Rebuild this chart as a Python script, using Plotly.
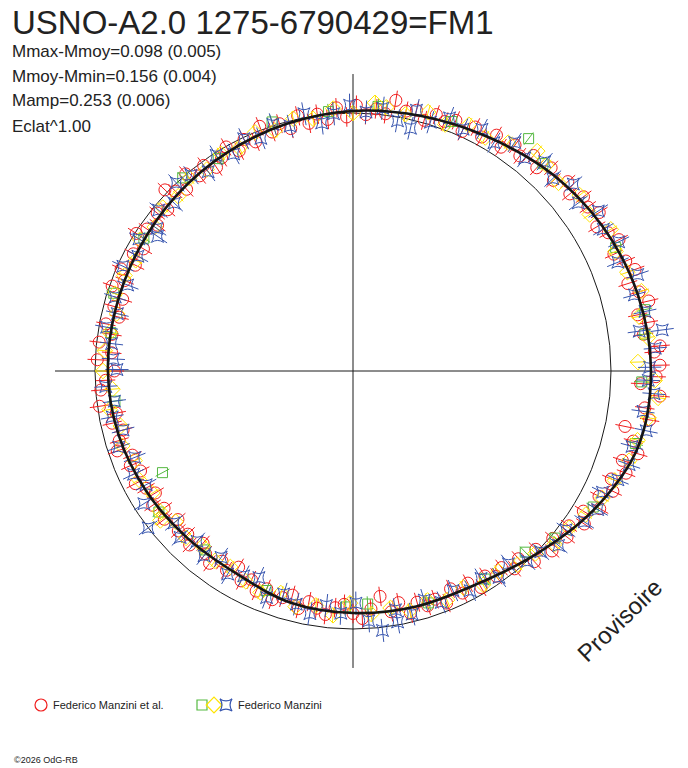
import numpy as np
import plotly.graph_objects as go

# ---------------- data ----------------
title = "USNO-A2.0 1275-6790429=FM1"
stats = ["Mmax-Mmoy=0.098 (0.005)", "Mmoy-Mmin=0.156 (0.004)", "Mamp=0.253 (0.006)", "Eclat^1.00"]
observer_1 = "Federico Manzini et al."
observer_2 = "Federico Manzini"

# fitted light curve: phase, magnitude offset from mean (m - Mmoy)
fit_phase = [0.0, 0.0417, 0.0833, 0.125, 0.1667, 0.2083, 0.25, 0.2917, 0.3333, 0.375, 0.4167, 0.4583,
             0.5, 0.5417, 0.5833, 0.625, 0.6667, 0.7083, 0.75, 0.7917, 0.8333, 0.875, 0.9167, 0.9583]
fit_dmag = [-0.155, -0.143, -0.118, -0.085, -0.047, -0.023, -0.008, 0.008, 0.023, 0.035, 0.045, 0.049,
            0.050, 0.058, 0.073, 0.088, 0.094, 0.070, 0.062, 0.055, 0.045, -0.004, -0.077, -0.143]

red_phase = [0.003, 0.010, 0.013, 0.020, 0.026, 0.031, 0.037, 0.043, 0.049, 0.055, 0.061, 0.067, 0.073, 0.079,
             0.085, 0.091, 0.097, 0.103, 0.109, 0.115, 0.121, 0.127, 0.133, 0.139, 0.145, 0.151, 0.157, 0.163,
             0.170, 0.176, 0.182, 0.188, 0.194, 0.200, 0.206, 0.212, 0.218, 0.225, 0.230, 0.236, 0.242, 0.248,
             0.254, 0.260, 0.266, 0.272, 0.278, 0.284, 0.290, 0.296, 0.302, 0.308, 0.314, 0.320, 0.326, 0.332,
             0.338, 0.344, 0.350, 0.356, 0.362, 0.368, 0.374, 0.378, 0.386, 0.392, 0.398, 0.404, 0.410, 0.416,
             0.422, 0.428, 0.434, 0.440, 0.446, 0.452, 0.458, 0.464, 0.470, 0.476, 0.482, 0.488, 0.493, 0.500,
             0.506, 0.512, 0.522, 0.528, 0.534, 0.540, 0.546, 0.552, 0.558, 0.564, 0.570, 0.576, 0.582, 0.588,
             0.594, 0.600, 0.606, 0.612, 0.618, 0.624, 0.630, 0.636, 0.642, 0.648, 0.654, 0.660, 0.666, 0.672,
             0.678, 0.684, 0.690, 0.696, 0.702, 0.708, 0.714, 0.720, 0.726, 0.732, 0.738, 0.744, 0.750, 0.756,
             0.762, 0.769, 0.775, 0.781, 0.787, 0.793, 0.799, 0.805, 0.811, 0.817, 0.823, 0.829, 0.835, 0.841,
             0.847, 0.853, 0.859, 0.865, 0.871, 0.877, 0.883, 0.889, 0.895, 0.901, 0.907, 0.913, 0.919, 0.925,
             0.931, 0.937, 0.943, 0.949, 0.955, 0.961, 0.968, 0.974, 0.980, 0.987, 0.993, 0.997]
red_dmag = [-0.190, -0.170, -0.194, -0.135, -0.160, -0.125, -0.178, -0.150, -0.118, -0.162, -0.140, -0.108, -0.150, -0.125,
            -0.098, -0.135, -0.110, -0.120, -0.085, -0.110, -0.072, -0.100, -0.062, -0.090, -0.055, -0.078, -0.040, -0.070,
            -0.035, -0.058, -0.020, -0.050, -0.030, -0.045, -0.010, -0.040, -0.028, -0.062, -0.005, -0.020, 0.005, -0.030,
            0.015, -0.022, 0.020, -0.005, 0.025, -0.012, 0.030, 0.000, 0.022, -0.015, 0.035, 0.008, 0.040, 0.002,
            0.030, 0.050, 0.015, 0.038, -0.002, 0.045, 0.020, -0.012, 0.048, 0.025, 0.055, 0.030, 0.005, 0.060,
            0.035, 0.062, 0.018, 0.048, 0.010, 0.065, 0.040, 0.070, 0.025, 0.055, 0.010, 0.062, 0.008, 0.075,
            0.040, 0.020, 0.008, 0.068, 0.045, 0.080, 0.055, 0.035, 0.085, 0.062, 0.090, 0.050, 0.078, 0.100,
            0.065, 0.095, 0.070, 0.110, 0.082, 0.100, 0.075, 0.115, 0.090, 0.070, 0.105, 0.085, 0.120, 0.078,
            0.100, 0.068, 0.092, 0.060, 0.080, 0.100, 0.055, 0.090, 0.070, 0.050, 0.080, 0.095, 0.060, 0.040,
            0.075, 0.120, 0.055, 0.085, 0.035, 0.070, 0.045, 0.060, 0.030, 0.075, 0.040, 0.065, 0.025, 0.055,
            0.030, 0.045, 0.010, 0.030, -0.020, 0.010, -0.040, -0.010, -0.050, -0.030, -0.075, -0.045, -0.095, -0.070,
            -0.110, -0.085, -0.130, -0.100, -0.150, -0.120, -0.076, -0.165, -0.140, -0.194, -0.116, -0.175]

yellow_phase = [0.005, 0.018, 0.030, 0.043, 0.055, 0.068, 0.080, 0.093, 0.105, 0.118, 0.130, 0.139, 0.155, 0.168,
                0.180, 0.193, 0.205, 0.218, 0.230, 0.237, 0.250, 0.262, 0.275, 0.287, 0.300, 0.312, 0.325, 0.337,
                0.350, 0.362, 0.375, 0.387, 0.400, 0.412, 0.425, 0.437, 0.450, 0.462, 0.475, 0.487, 0.500, 0.512,
                0.525, 0.537, 0.550, 0.562, 0.575, 0.587, 0.600, 0.605, 0.612, 0.625, 0.637, 0.650, 0.661, 0.675,
                0.687, 0.700, 0.712, 0.725, 0.737, 0.748, 0.762, 0.775, 0.787, 0.800, 0.812, 0.825, 0.837, 0.850,
                0.862, 0.875, 0.887, 0.900, 0.912, 0.925, 0.937, 0.950, 0.962, 0.975, 0.986, 0.995]
yellow_dmag = [-0.105, -0.150, -0.128, -0.160, -0.130, -0.118, -0.140, -0.100, -0.112, -0.080, -0.095, -0.112, -0.070, -0.040,
               -0.055, -0.020, -0.045, -0.015, -0.030, -0.043, 0.000, -0.020, 0.010, -0.005, 0.020, 0.000, 0.030, 0.015,
               0.035, 0.020, 0.042, 0.028, 0.050, 0.030, 0.055, 0.040, 0.030, 0.058, 0.045, 0.035, 0.031, 0.065,
               0.045, 0.075, 0.060, 0.085, 0.070, 0.090, 0.075, 0.055, 0.098, 0.085, 0.105, 0.090, 0.104, 0.085,
               0.070, 0.095, 0.060, 0.080, 0.050, 0.100, 0.055, 0.070, 0.045, 0.065, 0.040, 0.058, 0.030, 0.040,
               0.015, 0.000, -0.030, -0.035, -0.060, -0.085, -0.100, -0.125, -0.135, -0.160, -0.187, -0.170]

blue_phase = [0.002, 0.012, 0.021, 0.022, 0.032, 0.042, 0.052, 0.062, 0.072, 0.082, 0.092, 0.102, 0.112, 0.122,
              0.132, 0.142, 0.152, 0.162, 0.172, 0.182, 0.192, 0.202, 0.212, 0.213, 0.222, 0.232, 0.242, 0.252,
              0.262, 0.270, 0.280, 0.290, 0.300, 0.310, 0.320, 0.330, 0.340, 0.350, 0.360, 0.370, 0.380, 0.390,
              0.400, 0.404, 0.412, 0.422, 0.432, 0.442, 0.452, 0.462, 0.472, 0.482, 0.492, 0.499, 0.510, 0.520,
              0.530, 0.540, 0.550, 0.560, 0.570, 0.580, 0.590, 0.604, 0.612, 0.622, 0.632, 0.642, 0.652, 0.662,
              0.672, 0.682, 0.692, 0.702, 0.712, 0.722, 0.732, 0.742, 0.752, 0.760, 0.768, 0.778, 0.778, 0.788,
              0.798, 0.808, 0.818, 0.828, 0.838, 0.848, 0.858, 0.868, 0.878, 0.888, 0.898, 0.908, 0.918, 0.928,
              0.938, 0.948, 0.958, 0.968, 0.978, 0.988, 0.995]
blue_dmag = [-0.150, -0.175, -0.209, -0.120, -0.155, -0.130, -0.165, -0.110, -0.145, -0.115, -0.135, -0.090, -0.120, -0.075,
             -0.100, -0.060, -0.085, -0.040, -0.062, -0.030, -0.050, -0.010, -0.040, 0.033, 0.015, -0.025, -0.005, -0.030,
             0.000, 0.031, -0.015, 0.020, -0.005, 0.030, 0.005, 0.040, 0.010, 0.045, 0.015, 0.000, 0.050, 0.022,
             0.060, 0.080, 0.025, 0.055, 0.020, 0.065, 0.035, 0.060, 0.030, 0.058, 0.070, 0.085, 0.040, 0.068,
             0.050, 0.080, 0.045, 0.090, 0.060, 0.085, 0.040, 0.000, 0.090, 0.070, 0.105, 0.080, 0.115, 0.075,
             0.100, 0.120, 0.060, 0.095, 0.070, 0.045, 0.085, 0.060, 0.100, 0.030, -0.012, 0.060, 0.012, 0.030,
             0.070, 0.040, 0.065, 0.035, 0.055, 0.020, 0.040, 0.000, -0.010, -0.045, -0.030, -0.070, -0.090, -0.075,
             -0.110, -0.130, -0.120, -0.160, -0.135, -0.170, -0.145]

green_phase = [0.020, 0.033, 0.070, 0.132, 0.147, 0.190, 0.235, 0.265, 0.300, 0.340, 0.365, 0.410, 0.450, 0.475,
               0.520, 0.578, 0.600, 0.640, 0.690, 0.745, 0.760, 0.800, 0.840, 0.871, 0.890, 0.918, 0.960, 0.994]
green_dmag = [-0.140, -0.155, -0.125, -0.090, -0.129, -0.040, -0.030, -0.010, -0.015, 0.025, 0.002, 0.040, 0.025, 0.050,
              0.070, 0.163, 0.070, 0.100, 0.085, 0.085, 0.095, 0.055, 0.045, 0.031, -0.016, -0.070, -0.130, -0.120]

# typical radial error (mag) of each series
err_red, err_yellow, err_blue, err_green = 0.038, 0.028, 0.045, 0.030

# ---------------- helpers ----------------
def to_xy(phase, dmag):
    ph = np.asarray(phase, float)
    r = 1.0 - np.asarray(dmag, float)          # circle of radius 1 = mean magnitude
    th = 2 * np.pi * ph
    return r * np.cos(th), r * np.sin(th)

def err_lines(phase, dmag, e):
    xs, ys = [], []
    for p, d in zip(phase, dmag):
        th = 2 * np.pi * p
        for rr in (1 - d - e, 1 - d + e):
            xs.append(rr * np.cos(th)); ys.append(rr * np.sin(th))
        xs.append(None); ys.append(None)
    return xs, ys

RED = "rgb(240,30,30)"
YEL = "rgb(255,228,0)"
BLU = "rgb(55,85,175)"
GRN = "rgb(85,185,65)"

fig = go.Figure()

series = [
    (red_phase, red_dmag, err_red, RED, "circle-open", 12),
    (green_phase, green_dmag, err_green, GRN, "square-open", 10),
    (yellow_phase, yellow_dmag, err_yellow, YEL, "diamond-open", 12),
    (blue_phase, blue_dmag, err_blue, BLU, "star-square-open", 11),
]
for ph, dm, e, col, sym, sz in series:
    ex, ey = err_lines(ph, dm, e)
    fig.add_trace(go.Scatter(x=ex, y=ey, mode="lines", line=dict(color=col, width=1),
                             hoverinfo="skip", showlegend=False))
    x, y = to_xy(ph, dm)
    fig.add_trace(go.Scatter(x=x, y=y, mode="markers",
                             marker=dict(symbol=sym, size=sz, color=col, line=dict(color=col, width=1)),
                             showlegend=False))

# fitted curve (closed)
fx, fy = to_xy(fit_phase + [1.0], fit_dmag + [fit_dmag[0]])
fig.add_trace(go.Scatter(x=fx, y=fy, mode="lines", line=dict(color="#151515", width=2.6, shape="spline"),
                         showlegend=False, hoverinfo="skip"))

# reference circle (mean magnitude) and cross-hair
fig.add_shape(type="circle", xref="x", yref="y", x0=-1, y0=-1, x1=1, y1=1,
              line=dict(color="#1a1a1a", width=1), layer="below")
fig.add_shape(type="line", xref="x", yref="y", x0=-1.155, x1=1.16, y0=0, y1=0,
              line=dict(color="#1a1a1a", width=1), layer="below")
fig.add_shape(type="line", xref="x", yref="y", x0=0, x1=0, y0=-1.151, y1=1.151,
              line=dict(color="#1a1a1a", width=1), layer="below")

# page body margin is removed (post_script), so figure pixel = page pixel
W, H = 688, 768
CX, CY, R = 353, 371, 258

# legend symbols on an overlay axis expressed in page pixels
leg_y = 705
fig.add_trace(go.Scatter(x=[41], y=[leg_y], xaxis="x2", yaxis="y2", mode="markers",
                         marker=dict(symbol="circle-open", size=12, color=RED, line=dict(color=RED, width=1.2)),
                         showlegend=False, hoverinfo="skip"))
for xx, col, sym, sz in [(202, GRN, "square-open", 10), (214, YEL, "diamond-open", 12), (226, BLU, "star-square-open", 11)]:
    fig.add_trace(go.Scatter(x=[xx], y=[leg_y], xaxis="x2", yaxis="y2", mode="markers",
                             marker=dict(symbol=sym, size=sz, color=col, line=dict(color=col, width=1.2)),
                             showlegend=False, hoverinfo="skip"))

font = "Liberation Sans, Arial, sans-serif"
ann = []
def px_ann(text, x, y, size, xanchor="left", angle=0, color="#222"):
    ann.append(dict(text=text, x=x / W, y=1 - y / H, xref="paper", yref="paper", showarrow=False,
                    xanchor=xanchor, yanchor="middle", textangle=angle,
                    font=dict(family=font, size=size, color=color)))

px_ann(title, 10, 22, 33)
for i, s in enumerate(stats):
    px_ann(s, 10, 51 + 25 * i, 17)
px_ann(observer_1, 51, leg_y, 11)
px_ann(observer_2, 236, leg_y, 11)
px_ann("©2026 OdG-RB", 12, 760, 9)
px_ann("Provisoire", 619, 620, 24, xanchor="center", angle=-44)

fig.update_layout(
    width=W, height=H, autosize=False,
    margin=dict(l=0, r=0, t=0, b=0),
    paper_bgcolor="white", plot_bgcolor="white",
    xaxis=dict(range=[-CX / R, (W - CX) / R], visible=False, fixedrange=True),
    yaxis=dict(range=[(CY - H) / R, CY / R], visible=False, fixedrange=True),
    xaxis2=dict(range=[0, W], overlaying="x", visible=False, fixedrange=True),
    yaxis2=dict(range=[H, 0], overlaying="y", visible=False, fixedrange=True),
    annotations=ann,
    showlegend=False,
)

fig.write_html("out.html", config={"displayModeBar": False},
               post_script="document.body.style.margin='0';document.body.style.overflow='hidden';")
